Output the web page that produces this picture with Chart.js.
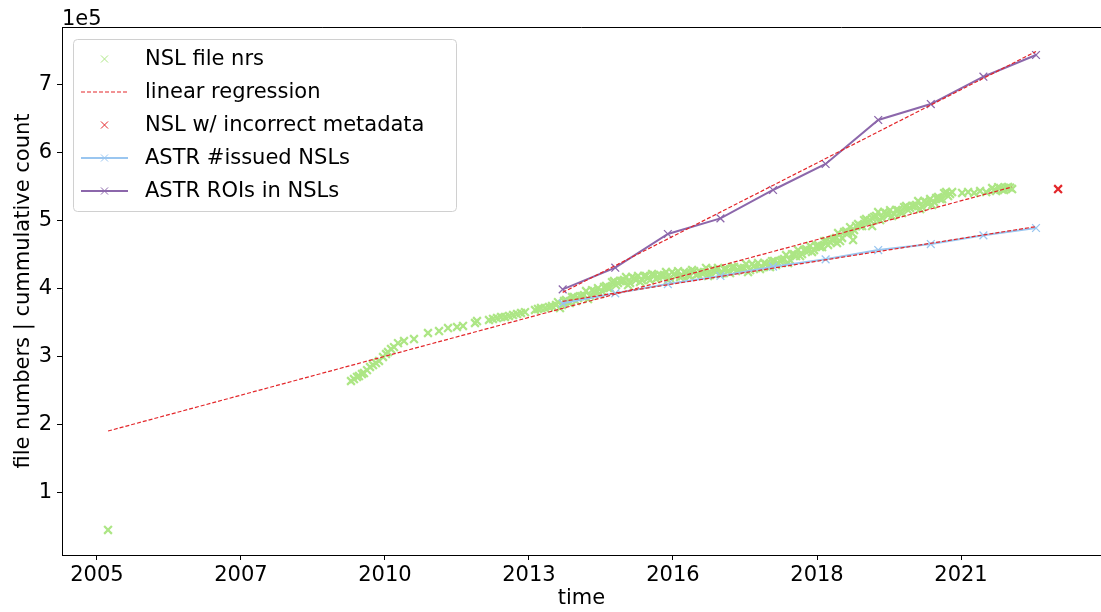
<!DOCTYPE html>
<html>
<head>
<meta charset="utf-8">
<script src="https://cdn.jsdelivr.net/npm/chart.js@4.4.1/dist/chart.umd.min.js"></script>
<style>
  html, body { margin: 0; padding: 0; background: #fff; }
  #wrap { width: 1101px; height: 612px; }
</style>
</head>
<body>
<div id="wrap"><canvas id="chart1" width="1101" height="612"></canvas></div>
<script>
// NSL file numbers (x in decimal years, y as count)
const nslYears = [
  2005.355,
  2009.975, 2010.032, 2010.089, 2010.127, 2010.184, 2010.222, 2010.280, 2010.337, 2010.394, 2010.451,
  2010.508, 2010.584, 2010.641, 2010.679, 2010.736, 2010.793,
  2010.869, 2010.983, 2011.173, 2011.439, 2011.649, 2011.820, 2011.991, 2012.105, 2012.333, 2012.371,
  2012.599, 2012.675, 2012.751, 2012.828, 2012.904, 2012.980, 2013.056, 2013.132, 2013.208, 2013.284,
  2013.474, 2013.531, 2013.588, 2013.664, 2013.740, 2013.797, 2013.873,
  2013.911, 2013.987, 2014.063, 2014.139, 2014.215, 2014.292, 2014.368, 2014.444, 2014.520, 2014.596,
  2014.672, 2014.748, 2014.824, 2014.900, 2014.976, 2015.052, 2015.128, 2015.205, 2015.281, 2015.357,
  2015.433, 2015.509, 2015.585, 2015.661, 2015.737, 2015.813, 2015.889, 2015.965, 2016.041, 2016.118,
  2016.194, 2016.270, 2016.346, 2016.422, 2016.498, 2016.574, 2016.650, 2016.726, 2016.802, 2016.878,
  2016.954, 2017.030, 2017.107, 2017.183, 2017.259, 2017.335, 2017.411, 2017.487, 2017.563, 2017.639,
  2017.715, 2017.791, 2017.867, 2017.943, 2018.020, 2018.096, 2018.172, 2018.248, 2018.324, 2018.400,
  2018.476, 2018.552, 2018.628,
  2018.704, 2018.780, 2018.856, 2018.933, 2019.009, 2019.085, 2019.161, 2019.237, 2019.313, 2019.389,
  2019.465, 2019.541, 2019.617, 2019.693, 2019.769, 2019.846, 2019.922, 2019.998, 2020.074, 2020.150,
  2020.226, 2020.302, 2020.378, 2020.454, 2020.530, 2020.606, 2020.682, 2020.759, 2020.835, 2020.911,
  2020.987, 2021.063, 2021.139, 2021.215, 2021.291, 2021.367, 2021.595, 2021.709, 2021.823, 2021.937,
  2022.052, 2022.166, 2022.242, 2022.318, 2022.394, 2022.470, 2022.546,
  2019.217, 2019.522, 2019.884
];
const nslCounts = [
  44900,
  264000, 266900, 269900, 271300, 274300, 275700, 280100, 284600, 287500, 290400,
  293400, 299300, 303700, 306600, 311000, 313900,
  319800, 322800, 325700, 334600, 337500, 341900, 343400, 344900, 349300, 352200,
  353700, 355200, 356600, 358100, 358100, 359600, 361000, 362500, 364000, 365400,
  368400, 369900, 371300, 371300, 372800, 374300, 375700,
  380100, 375700, 383100, 378700, 387500, 386000, 388900, 396300, 388900, 396300,
  400700, 396300, 403700, 400700, 411000, 408100, 411000, 416900, 408100, 415400,
  418400, 412500, 418400, 412500, 419900, 416900, 418400, 424300, 415400, 421300,
  425700, 418400, 422800, 418400, 425700, 421300, 422800, 430200, 419900, 427200,
  430200, 422800, 428700, 422800, 431600, 427200, 428700, 436000, 427200, 433100,
  437500, 431600, 436000, 431600, 440500, 437500, 441900, 449300, 441900, 450700,
  456600, 450700, 458100,
  462500, 456600, 464000, 461000, 469900, 468400, 472800, 481600, 474300, 484600,
  490400, 486000, 494900, 491900, 502200, 500700, 505200, 512500, 503700, 511000,
  515400, 509600, 515400, 511000, 521300, 518400, 521300, 528700, 519900, 527200,
  531600, 527200, 534600, 531600, 541900, 539000, 540500, 541900, 540500, 543400,
  541900, 547800, 543400, 547800, 544900, 549300, 546300,
  466900, 471300, 491900
];
// second pass through the dense part of the band (2014 - 2022)
const nslYearsDense = [
  2013.949, 2014.025, 2014.101, 2014.177, 2014.253, 2014.330, 2014.406, 2014.482, 2014.558, 2014.634,
  2014.710, 2014.786, 2014.862, 2014.938, 2015.014, 2015.090, 2015.166, 2015.243, 2015.319, 2015.395,
  2015.471, 2015.547, 2015.623, 2015.699, 2015.775, 2015.851, 2015.927, 2016.003, 2016.079, 2016.156,
  2016.232, 2016.308, 2016.384, 2016.460, 2016.536, 2016.612, 2016.688, 2016.764, 2016.840, 2016.916,
  2016.992, 2017.068, 2017.145, 2017.221, 2017.297, 2017.373, 2017.449, 2017.525, 2017.601, 2017.677,
  2017.753, 2017.829, 2017.905, 2017.981, 2018.058, 2018.134, 2018.210, 2018.286, 2018.362, 2018.438,
  2018.514, 2018.590, 2018.666,
  2018.742, 2018.818, 2018.894, 2018.971, 2019.047, 2019.123, 2019.199, 2019.275, 2019.351, 2019.427,
  2019.503, 2019.579, 2019.655, 2019.731, 2019.807, 2019.884, 2019.960, 2020.036, 2020.112, 2020.188,
  2020.264, 2020.340, 2020.416, 2020.492, 2020.568, 2020.644, 2020.720, 2020.797, 2020.873, 2020.949,
  2021.025, 2021.101, 2021.177, 2021.253, 2021.329, 2021.405,
  2022.204, 2022.280, 2022.356, 2022.432, 2022.508
];
const nslCountsDense = [
  371300, 381600, 380200, 387500, 381600, 388900, 390400, 384500, 397700, 393400,
  391900, 402200, 400800, 409500, 405100, 411000, 412500, 405100, 416900, 412500,
  409600, 418400, 415500, 421300, 414000, 419800, 419900, 412500, 424200, 418400,
  416900, 424300, 419900, 427200, 419800, 424200, 424300, 418400, 428700, 424300,
  421400, 428700, 425800, 431600, 425700, 430100, 430200, 424200, 436000, 430200,
  428700, 437500, 433100, 440400, 434600, 440400, 443400, 437500, 450700, 447800,
  447800, 456600, 455200,
  453700, 462500, 461100, 469800, 464000, 471300, 474300, 469800, 483100, 481700,
  481600, 491900, 492000, 500700, 496300, 503600, 506700, 500700, 512500, 508100,
  506600, 515500, 512500, 519800, 515400, 521300, 522800, 516900, 528700, 524300,
  522800, 533100, 531700, 540400, 536000, 541900,
  545000, 549000, 545600, 548000, 548500
];

// linear regression end points
const nslFitYears = [2005.355, 2022.546];
const nslFitCounts = [190400, 549300];
const issuedFitYears = [2014, 2023];
const issuedFitCounts = [381100, 491000];
const roiFitYears = [2014, 2023];
const roiFitCounts = [394300, 748600];

// NSL w/ incorrect metadata
const badYears = [2023.42];
const badCounts = [546300];

// ASTR yearly series
const astrYears = [2014, 2015, 2016, 2017, 2018, 2019, 2020, 2021, 2022, 2023];
const issuedCounts = [378200, 392900, 406600, 418400, 432100, 442900, 456600, 465400, 478200, 489000];
const roiCounts = [398800, 430600, 480200, 503200, 544900, 583100, 647800, 671300, 711500, 743400];

// axis ticks
const xTickValues = [2005.145, 2007.883, 2010.621, 2013.359, 2016.097, 2018.836, 2021.574];
const xTickLabels = ['2005', '2007', '2010', '2013', '2016', '2018', '2021'];
const yTickValues = [100000, 200000, 300000, 400000, 500000, 600000, 700000];

const GREEN = '#ade685';
const RED = '#e3262a';
const BLUE = '#9ac6f0';
const PURPLE = '#8c67ab';
const FONT = 'DejaVu Sans';

function pairs(xs, ys) {
  const out = [];
  for (let i = 0; i < xs.length; i++) {
    out.push({x: xs[i], y: ys[i]});
  }
  return out;
}

const fitStyle = {
  type: 'line',
  showLine: true,
  borderColor: RED,
  borderWidth: 1.2,
  borderDash: [4, 2],
  pointRadius: 0,
  order: 0
};

const datasets = [
  {
    label: 'NSL file nrs',
    data: pairs(nslYears, nslCounts).concat(pairs(nslYearsDense, nslCountsDense)),
    showLine: false,
    pointStyle: 'crossRot',
    pointRadius: 5.5,
    pointBorderWidth: 2.2,
    borderColor: GREEN,
    backgroundColor: GREEN,
    order: 3
  },
  Object.assign({label: 'linear regression', data: pairs(nslFitYears, nslFitCounts)}, fitStyle),
  Object.assign({label: 'fit issued', data: pairs(issuedFitYears, issuedFitCounts)}, fitStyle),
  Object.assign({label: 'fit rois', data: pairs(roiFitYears, roiFitCounts)}, fitStyle),
  {
    label: 'NSL w/ incorrect metadata',
    data: pairs(badYears, badCounts),
    showLine: false,
    pointStyle: 'crossRot',
    pointRadius: 5.5,
    pointBorderWidth: 2.2,
    borderColor: RED,
    backgroundColor: RED,
    order: 0
  },
  {
    label: 'ASTR #issued NSLs',
    type: 'line',
    data: pairs(astrYears, issuedCounts),
    showLine: true,
    borderColor: BLUE,
    backgroundColor: BLUE,
    borderWidth: 2,
    pointStyle: 'crossRot',
    pointRadius: 5.5,
    pointBorderWidth: 1.3,
    order: 1
  },
  {
    label: 'ASTR ROIs in NSLs',
    type: 'line',
    data: pairs(astrYears, roiCounts),
    showLine: true,
    borderColor: PURPLE,
    backgroundColor: PURPLE,
    borderWidth: 2,
    pointStyle: 'crossRot',
    pointRadius: 5.5,
    pointBorderWidth: 1.3,
    order: 1
  }
];

// which datasets show in the legend, and how
const legendRows = [
  {ds: 0, line: false, dash: false, marker: true},
  {ds: 1, line: true, dash: true, marker: false},
  {ds: 4, line: false, dash: false, marker: true},
  {ds: 5, line: true, dash: false, marker: true},
  {ds: 6, line: true, dash: false, marker: true}
];

const framePlugin = {
  id: 'frame',
  afterDatasetsDraw(chart) {
    const a = chart.chartArea;
    const c = chart.ctx;
    c.save();
    c.strokeStyle = '#000';
    c.lineWidth = 1;
    c.beginPath();
    c.moveTo(a.left + 0.5, a.bottom + 0.5);
    c.lineTo(a.left + 0.5, a.top + 0.5);
    c.lineTo(a.right, a.top + 0.5);
    c.moveTo(a.left + 0.5, a.bottom + 0.5);
    c.lineTo(a.right, a.bottom + 0.5);
    c.stroke();
    // offset text
    c.fillStyle = '#000';
    c.font = '21px "' + FONT + '"';
    c.textAlign = 'left';
    c.textBaseline = 'alphabetic';
    c.fillText('1e5', a.left, a.top - 2);
    c.restore();
  }
};

const legendPlugin = {
  id: 'boxLegend',
  afterDraw(chart) {
    const c = chart.ctx;
    const a = chart.chartArea;
    const bx = a.left + 11, by = a.top + 12, bw = 383, bh = 172;
    c.save();
    c.beginPath();
    c.roundRect(bx + 0.5, by + 0.5, bw, bh, 4);
    c.fillStyle = 'rgba(255,255,255,0.85)';
    c.fill();
    c.strokeStyle = '#d0d0d0';
    c.lineWidth = 1;
    c.stroke();
    c.font = '21px "' + FONT + '"';
    c.textBaseline = 'middle';
    c.textAlign = 'left';
    const rowGap = 33;
    legendRows.forEach((row, i) => {
      const ds = chart.data.datasets[row.ds];
      const y = by + 20 + i * rowGap;
      const x0 = bx + 8, x1 = bx + 55, xm = (x0 + x1) / 2;
      if (row.line) {
        c.save();
        c.strokeStyle = ds.borderColor;
        c.lineWidth = ds.borderWidth || 1;
        c.setLineDash(row.dash ? [4, 2] : []);
        c.beginPath();
        c.moveTo(x0, y);
        c.lineTo(x1, y);
        c.stroke();
        c.restore();
      }
      if (row.marker) {
        c.save();
        c.strokeStyle = ds.borderColor;
        c.fillStyle = ds.borderColor;
        Chart.helpers.drawPoint(c, {
          pointStyle: 'crossRot',
          radius: 5,
          rotation: 0,
          borderWidth: Math.min(ds.pointBorderWidth, 1.6)
        }, xm, y);
        c.restore();
      }
      c.fillStyle = '#000';
      c.fillText(ds.label, bx + 72, y + 1);
    });
    c.restore();
  }
};

const ctx = document.getElementById('chart1').getContext('2d');

const config = {
  type: 'scatter',
  data: {datasets: datasets},
  options: {
    responsive: false,
    animation: false,
    devicePixelRatio: 1,
    layout: {autoPadding: false, padding: {top: 27, right: 0, left: 0, bottom: 0}},
    plugins: {
      legend: {display: false},
      tooltip: {enabled: false}
    },
    scales: {
      x: {
        type: 'linear',
        min: 2004.48,
        max: 2024.236,
        afterBuildTicks: (scale) => {
          scale.ticks = xTickValues.map(v => ({value: v}));
        },
        afterFit: (scale) => {
          scale.height = 57;
          scale.paddingLeft = 0;
          scale.paddingRight = 0;
        },
        ticks: {
          autoSkip: false,
          maxRotation: 0,
          padding: 3,
          color: '#000',
          font: {family: FONT, size: 21},
          callback: (value, index) => xTickLabels[index]
        },
        grid: {drawOnChartArea: false, tickLength: 5, color: '#000', lineWidth: 1},
        border: {display: true, color: '#000', width: 1},
        title: {
          display: true,
          text: 'time',
          color: '#000',
          font: {family: FONT, size: 21},
          padding: {top: 0, bottom: 1}
        }
      },
      y: {
        type: 'linear',
        min: 8100,
        max: 784600,
        afterBuildTicks: (scale) => {
          scale.ticks = yTickValues.map(v => ({value: v}));
        },
        afterFit: (scale) => {
          scale.width = 62;
          scale.paddingTop = 0;
          scale.paddingBottom = 0;
        },
        ticks: {
          padding: 5,
          color: '#000',
          font: {family: FONT, size: 21},
          callback: (value) => String(value / 100000)
        },
        grid: {drawOnChartArea: false, tickLength: 5, color: '#000', lineWidth: 1},
        border: {display: true, color: '#000', width: 1},
        title: {
          display: true,
          text: 'file numbers | cummulative count',
          color: '#000',
          font: {family: FONT, size: 21},
          padding: {top: 11, bottom: 0}
        }
      }
    }
  },
  plugins: [framePlugin, legendPlugin]
};

var myChart = new Chart(ctx, config);
</script>
</body>
</html>
